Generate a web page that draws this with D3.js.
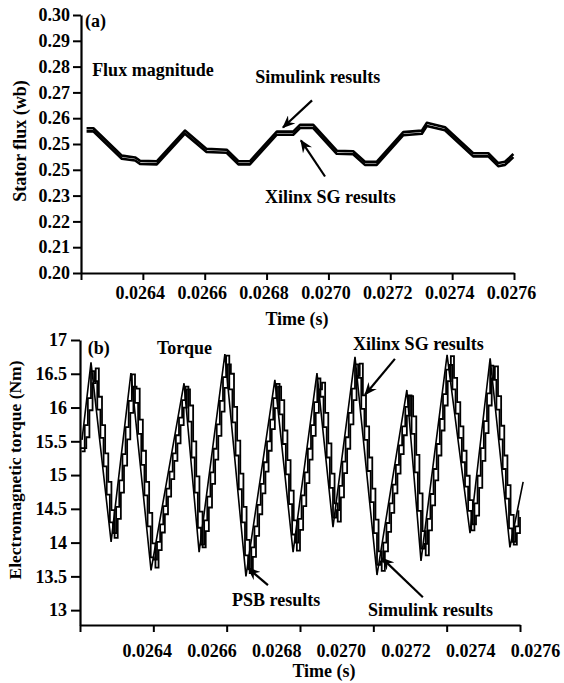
<!DOCTYPE html>
<html>
<head>
<meta charset="utf-8">
<script src="https://cdn.jsdelivr.net/npm/d3@7/dist/d3.min.js"></script>
<style>
body { margin: 0; background: #fff; }
svg text { font-family: "Liberation Serif", "Times New Roman", Times, "DejaVu Serif", serif; font-weight: bold; fill: #000; }
</style>
</head>
<body>
<svg id="chart" width="564" height="683"></svg>
<script>
// ---- data: panel (a) flux magnitude ----
var fluxTime = [0.026218, 0.026240, 0.026332, 0.026375, 0.026391, 0.026445, 0.026536,
  0.026606, 0.026671, 0.026709, 0.026746, 0.026833, 0.026886, 0.026908, 0.026951,
  0.027027, 0.027080, 0.027118, 0.027156, 0.027242, 0.027302, 0.027318, 0.027377,
  0.027468, 0.027517, 0.027549, 0.027571, 0.027598];
var fluxSimulink = [0.2561, 0.2561, 0.2455, 0.2448, 0.2435, 0.2433, 0.2552, 0.2481,
  0.2478, 0.2433, 0.2433, 0.2548, 0.2548, 0.2574, 0.2574, 0.2474, 0.2472, 0.2431,
  0.2431, 0.2546, 0.2552, 0.2582, 0.2565, 0.2464, 0.2464, 0.2426, 0.2431, 0.2461];
var fluxXilinx = [0.2549, 0.2549, 0.2443, 0.2436, 0.2423, 0.2421, 0.2540, 0.2469,
  0.2466, 0.2421, 0.2421, 0.2536, 0.2536, 0.2562, 0.2562, 0.2462, 0.2460, 0.2419,
  0.2419, 0.2534, 0.2540, 0.2570, 0.2553, 0.2452, 0.2452, 0.2414, 0.2419, 0.2449];

// tick labels as printed (the 0.24 tick is printed as 0.25 in the source)
var fluxTicks = [0.20, 0.21, 0.22, 0.23, 0.24, 0.25, 0.26, 0.27, 0.28, 0.29, 0.30];
var fluxTickLabels = ["0.20", "0.21", "0.22", "0.23", "0.25", "0.25", "0.26", "0.27", "0.28", "0.29", "0.30"];
var timeTicks = [0.0264, 0.0266, 0.0268, 0.0270, 0.0272, 0.0274, 0.0276];
var timeTickLabels = ["0.0264", "0.0266", "0.0268", "0.0270", "0.0272", "0.0274", "0.0276"];

// ---- data: panel (b) torque ----
var simTime = [0.0262064, 0.026235, 0.026299, 0.026362, 0.026426, 0.026531, 0.026579,
  0.026661, 0.026728, 0.026820, 0.026878, 0.026954, 0.027005, 0.027075, 0.027145,
  0.027240, 0.027285, 0.027368, 0.027441, 0.027505, 0.027568, 0.027610];
var simTorque = [15.52, 16.67, 14.01, 16.51, 13.59, 16.36, 13.86, 16.79, 13.50, 16.41,
  13.86, 16.51, 14.23, 16.75, 13.52, 16.26, 13.73, 16.78, 14.14, 16.73, 13.93, 14.90];

// staircase outputs, one value per 10 us sample
var sampleStep = 1e-5;
var xilinxStart = 0.026200;
var xilinxTorque = [
  15.4, 15.4, 15.56, 15.96, 16.36, 16.58, 16.16, 15.74, 15.32, 14.90,
  14.48, 14.07, 14.35, 14.74, 15.14, 15.53, 15.92, 16.31, 16.28, 15.82,
  15.36, 14.90, 14.44, 13.99, 13.63, 13.89, 14.15, 14.42, 14.68, 14.94,
  15.21, 15.47, 15.74, 16.00, 16.27, 16.03, 15.50, 14.98, 14.46, 13.93,
  14.17, 14.52, 14.87, 15.23, 15.58, 15.94, 16.29, 16.64, 16.50, 16.01,
  15.51, 15.02, 14.53, 14.04, 13.55, 13.79, 14.10, 14.42, 14.73, 15.05,
  15.36, 15.68, 15.99, 16.31, 16.11, 15.66, 15.22, 14.77, 14.33, 13.88,
  14.19, 14.54, 14.88, 15.23, 15.58, 15.92, 16.27, 16.37, 15.92, 15.47,
  15.02, 14.58, 14.31, 14.67, 15.03, 15.39, 15.75, 16.11, 16.47, 16.65,
  16.18, 15.72, 15.26, 14.80, 14.34, 13.87, 13.58, 13.87, 14.16, 14.44,
  14.73, 15.02, 15.31, 15.59, 15.88, 16.17, 15.87, 15.30, 14.73, 14.17,
  13.81, 14.18, 14.55, 14.92, 15.29, 15.66, 16.03, 16.39, 16.76, 16.44,
  16.08, 15.72, 15.36, 14.99, 14.63, 14.27, 14.40, 14.81, 15.21, 15.62,
  16.03, 16.43, 16.61, 16.17, 15.73, 15.29, 14.85, 14.41, 13.97, 14.14,
  14.38];
var psbStart = 0.026205;
var psbTorque = [
  15.35, 15.74, 16.14, 16.54, 16.39, 15.97, 15.55, 15.13, 14.71, 14.30,
  14.14, 14.53, 14.92, 15.31, 15.71, 16.10, 16.49, 16.07, 15.61, 15.15,
  14.70, 14.24, 13.78, 13.75, 14.01, 14.27, 14.54, 14.80, 15.05, 15.32,
  15.59, 15.85, 16.11, 16.31, 15.79, 15.26, 14.74, 14.22, 13.97, 14.33,
  14.68, 15.04, 15.39, 15.75, 16.10, 16.45, 16.77, 16.27, 15.78, 15.29,
  14.79, 14.30, 13.81, 13.61, 13.93, 14.24, 14.56, 14.87, 15.19, 15.50,
  15.82, 16.14, 16.35, 15.90, 15.46, 15.01, 14.57, 14.12, 14.00, 14.35,
  14.70, 15.04, 15.39, 15.74, 16.08, 16.43, 16.16, 15.71, 15.26, 14.81,
  14.37, 14.48, 14.84, 15.20, 15.56, 15.92, 16.28, 16.64, 16.44, 15.98,
  15.52, 15.06, 14.60, 14.14, 13.67, 13.72, 14.00, 14.29, 14.58, 14.86,
  15.15, 15.44, 15.72, 16.01, 16.18, 15.61, 15.04, 14.47, 13.91, 13.98,
  14.35, 14.72, 15.09, 15.46, 15.83, 16.20, 16.56, 16.63, 16.27, 15.91,
  15.55, 15.19, 14.83, 14.47, 14.18, 14.58, 14.99, 15.40, 15.80, 16.21,
  16.62, 16.41, 15.97, 15.53, 15.09, 14.65, 14.21, 14.01, 14.24, 14.48];

var torqueTicks = [13, 13.5, 14, 14.5, 15, 15.5, 16, 16.5, 17];
var torqueTickLabels = ["13", "13.5", "14", "14.5", "15", "15.5", "16", "16.5", "17"];

// ---- annotations, in data units: [time, value] ----
var fluxNotes = [
  {text: "(a)", t: 0.026213, v: 0.2953},
  {text: "Flux magnitude", t: 0.026236, v: 0.2763},
  {text: "Simulink results", t: 0.026763, v: 0.2735},
  {text: "Xilinx SG results", t: 0.026795, v: 0.2272}
];
var fluxArrows = [
  [[0.026947, 0.2669], [0.026853, 0.2564]],
  [[0.026989, 0.2374], [0.026911, 0.2514]]
];
var torqueNotes = [
  {text: "(b)", t: 0.026225, v: 16.79},
  {text: "Torque", t: 0.026445, v: 16.79},
  {text: "Xilinx SG results", t: 0.027069, v: 16.85},
  {text: "PSB results", t: 0.026684, v: 13.06},
  {text: "Simulink results", t: 0.027116, v: 12.91}
];
var torqueArrows = [
  [[0.027202, 16.72], [0.027107, 16.19]],
  [[0.026798, 13.37], [0.026735, 13.62]],
  [[0.027291, 13.19], [0.027161, 13.77]]
];

// ---- layout ----
var config = {
  a: {left: 81, right: 514, top: 15, bottom: 273},
  b: {left: 80, right: 520, top: 340, bottom: 625},
  font: 18
};
var serif = '"Liberation Serif", "Times New Roman", Times, "DejaVu Serif", serif';

var svg = d3.select("#chart");

svg.append("defs").append("marker")
  .attr("id", "head")
  .attr("markerUnits", "userSpaceOnUse")
  .attr("viewBox", "0 0 12 10")
  .attr("refX", 11).attr("refY", 5)
  .attr("markerWidth", 13).attr("markerHeight", 11)
  .attr("orient", "auto")
  .append("path")
  .attr("d", "M0,0 L12,5 L0,10 L4,5 Z")
  .attr("fill", "#000");

function styleAxis(g) {
  g.attr("font-family", serif);
  g.selectAll("path.domain").attr("stroke", "#000").attr("stroke-width", 2.2);
  g.selectAll(".tick line").attr("stroke", "#000").attr("stroke-width", 2);
  g.selectAll(".tick text")
    .style("font-family", serif)
    .style("font-weight", "bold")
    .style("font-size", config.font + "px")
    .attr("fill", "#000");
}

function drawNotes(g, notes, arrows, x, y) {
  g.selectAll("text.note")
    .data(notes)
    .enter().append("text")
    .attr("class", "note")
    .attr("x", function(d) { return x(d.t); })
    .attr("y", function(d) { return y(d.v); })
    .style("font-size", config.font + "px")
    .text(function(d) { return d.text; });

  g.selectAll("line.arrow")
    .data(arrows)
    .enter().append("line")
    .attr("class", "arrow")
    .attr("x1", function(d) { return x(d[0][0]); })
    .attr("y1", function(d) { return y(d[0][1]); })
    .attr("x2", function(d) { return x(d[1][0]); })
    .attr("y2", function(d) { return y(d[1][1]); })
    .attr("stroke", "#000")
    .attr("stroke-width", 2.2)
    .attr("marker-end", "url(#head)");
}

// ================= panel (a) =================
var ca = config.a;
var xa = d3.scaleLinear().domain([0.0262, 0.0276]).range([ca.left, ca.right]);
var ya = d3.scaleLinear().domain([0.20, 0.30]).range([ca.bottom, ca.top]);

var ga = svg.append("g").attr("id", "panelA");

ga.append("g")
  .attr("transform", "translate(0," + ca.bottom + ")")
  .call(d3.axisBottom(xa).tickValues([0.0262].concat(timeTicks))
    .tickSize(7).tickSizeOuter(0).tickPadding(6)
    .tickFormat(function(d, i) { return i === 0 ? "" : timeTickLabels[i - 1]; }))
  .call(styleAxis)
  .selectAll(".tick text").attr("dx", -3);

ga.append("g")
  .attr("transform", "translate(" + ca.left + ",0)")
  .call(d3.axisLeft(ya).tickValues(fluxTicks)
    .tickSize(8).tickSizeOuter(0).tickPadding(3)
    .tickFormat(function(d, i) { return fluxTickLabels[i]; }))
  .call(styleAxis);

ga.append("text")
  .attr("x", 297).attr("y", 325)
  .attr("text-anchor", "middle")
  .style("font-size", config.font + "px")
  .text("Time (s)");

ga.append("text")
  .attr("transform", "translate(26,141) rotate(-90)")
  .attr("text-anchor", "middle")
  .style("font-size", config.font + "px")
  .text("Stator flux (wb)");

var fluxLine = function(vals) {
  return d3.line()
    .x(function(d, i) { return xa(fluxTime[i]); })
    .y(function(d) { return ya(d); })(vals);
};

ga.selectAll("path.flux")
  .data([fluxSimulink, fluxXilinx])
  .enter().append("path")
  .attr("class", "flux")
  .attr("d", fluxLine)
  .attr("fill", "none")
  .attr("stroke", "#000")
  .attr("stroke-width", 2.6)
  .attr("stroke-linejoin", "round");

drawNotes(ga, fluxNotes, fluxArrows, xa, ya);

// ================= panel (b) =================
var cb = config.b;
var xb = d3.scaleLinear().domain([0.0262, 0.0276]).range([cb.left, cb.right]);
// the printed time labels in (b) sit on their own spacing, not on the tick marks
var xbLabel = d3.scaleLinear().domain([0.0262, 0.0276]).range([82, 535]);
var yb = d3.scaleLinear().domain([12.78, 17]).range([cb.bottom, cb.top]);

var gb = svg.append("g").attr("id", "panelB");

gb.append("g")
  .attr("transform", "translate(0," + cb.bottom + ")")
  .call(d3.axisBottom(xb).tickValues(d3.range(7).map(function(k) { return 0.0262 + k * 0.0014 / 6; }))
    .tickSize(7).tickSizeOuter(0).tickFormat(""))
  .call(styleAxis);

gb.append("g")
  .attr("transform", "translate(0," + cb.bottom + ")")
  .call(d3.axisBottom(xbLabel).tickValues(timeTicks)
    .tickSize(0).tickPadding(19)
    .tickFormat(function(d, i) { return timeTickLabels[i]; }))
  .call(styleAxis)
  .call(function(g) { g.select(".domain").remove(); });

gb.append("g")
  .attr("transform", "translate(" + cb.left + ",0)")
  .call(d3.axisLeft(yb).tickValues(torqueTicks)
    .tickSize(9).tickSizeOuter(0).tickPadding(4)
    .tickFormat(function(d, i) { return torqueTickLabels[i]; }))
  .call(styleAxis);

gb.append("text")
  .attr("x", 324).attr("y", 677)
  .attr("text-anchor", "middle")
  .style("font-size", config.font + "px")
  .text("Time (s)");

gb.append("text")
  .attr("transform", "translate(21,470) rotate(-90)")
  .attr("text-anchor", "middle")
  .style("font-size", "17.5px")
  .text("Electromagnetic torque (Nm)");

var stair = d3.line().curve(d3.curveStepAfter)
  .x(function(d) { return xb(d.t); })
  .y(function(d) { return yb(d.v); });

var xilinxPts = xilinxTorque.map(function(v, i) { return {t: xilinxStart + i * sampleStep, v: v}; });
var psbPts = psbTorque.map(function(v, i) { return {t: psbStart + i * sampleStep, v: v}; });
var simPts = simTorque.map(function(v, i) { return {t: simTime[i], v: v}; });

gb.append("path")
  .attr("d", stair(psbPts))
  .attr("fill", "none").attr("stroke", "#000").attr("stroke-width", 1.8);

gb.append("path")
  .attr("d", stair(xilinxPts))
  .attr("fill", "none").attr("stroke", "#000").attr("stroke-width", 1.8);

gb.append("path")
  .attr("d", d3.line()
    .x(function(d) { return xb(d.t); })
    .y(function(d) { return yb(d.v); })(simPts))
  .attr("fill", "none").attr("stroke", "#000").attr("stroke-width", 1.6)
  .attr("stroke-linejoin", "miter");

drawNotes(gb, torqueNotes, torqueArrows, xb, yb);
</script>
</body>
</html>
